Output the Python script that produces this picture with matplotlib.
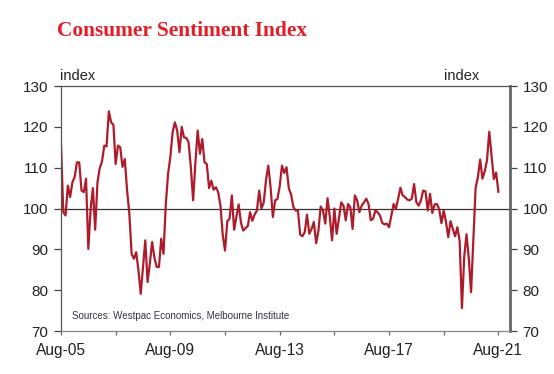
import matplotlib
matplotlib.use("Agg")
import matplotlib.pyplot as plt
import numpy as np

# Monthly Westpac-MI Consumer Sentiment Index, Aug-05 .. Aug-21
sentiment = [
    115.8, 99.1, 98.3, 105.6, 102.8, 106.4, 107.7, 111.3, 111.3, 104.4,
    104.0, 107.3, 90.1, 99.8, 105.0, 94.8, 106.4, 109.9, 111.5, 115.4,
    115.2, 123.8, 121.1, 120.5, 110.9, 115.4, 115.0, 110.2, 112.1, 104.5,
    98.7, 88.9, 87.7, 89.3, 84.8, 79.1, 85.7, 92.2, 82.0, 86.5,
    91.8, 88.0, 85.7, 85.7, 92.6, 88.9, 101.0, 108.5, 112.6, 118.7,
    121.1, 119.1, 113.8, 120.0, 117.4, 117.3, 116.2, 110.1, 102.0, 111.3,
    119.1, 113.4, 117.0, 111.3, 110.9, 105.0, 106.8, 104.6, 105.2, 104.0,
    100.7, 93.5, 89.7, 96.9, 97.5, 103.2, 94.8, 98.0, 101.0, 96.5,
    94.6, 95.2, 95.7, 99.1, 97.0, 98.5, 99.5, 104.4, 100.0, 101.5,
    107.0, 110.5, 105.2, 97.9, 102.0, 102.3, 105.4, 110.5, 108.7, 110.1,
    105.0, 103.4, 100.4, 99.5, 99.5, 93.6, 93.2, 94.2, 98.5, 93.8,
    95.0, 96.7, 91.5, 94.5, 100.5, 99.5, 96.3, 102.5, 97.9, 92.2,
    100.0, 93.8, 97.5, 101.5, 100.7, 97.1, 101.1, 100.3, 95.0, 103.2,
    102.0, 99.1, 100.7, 101.5, 102.4, 101.1, 97.1, 97.5, 99.5, 99.1,
    98.3, 96.5, 96.1, 96.3, 95.4, 98.3, 101.1, 99.9, 102.4, 105.1,
    103.2, 102.8, 102.2, 102.0, 102.4, 106.0, 101.5, 100.7, 102.0, 104.4,
    104.2, 99.5, 103.6, 98.9, 101.0, 101.1, 99.9, 96.4, 99.5, 96.7,
    93.0, 96.9, 95.0, 93.2, 95.4, 92.0, 75.6, 88.1, 93.7, 87.9,
    79.5, 92.5, 105.0, 107.7, 112.0, 107.3, 109.1, 111.8, 118.8, 113.1,
    107.2, 108.8, 104.1,
]
tick_labels = ["Aug-05", "", "Aug-09", "", "Aug-13", "", "Aug-17", "", "Aug-21"]
y_ticks = [70, 80, 90, 100, 110, 120, 130]

months = np.arange(len(sentiment))

plt.rcParams['font.family'] = ['Liberation Sans', 'DejaVu Sans']

fig = plt.figure(figsize=(5.54, 3.74), dpi=100)
ax = fig.add_axes([61/554, 1-331/374, (510-61)/554, (331-86)/374])

ax.plot(months, sentiment, color='#AE1C2B', lw=1.6, solid_joinstyle='round')
ax.axhline(100, color='#333333', lw=0.9, zorder=1)

ax.set_ylim(70, 130)
ax.set_xlim(0, 197.1)
ax.set_yticks(y_ticks)
ax.set_xticks(np.arange(0, 24*len(tick_labels), 24))
ax.set_xticklabels(tick_labels)

ax.tick_params(axis='y', which='both', left=True, right=True, labelleft=True,
               labelright=True, direction='out', length=5, width=0.9,
               color='#444444', labelsize=11, labelcolor='#222222', pad=4)
ax.tick_params(axis='x', direction='out', length=3, width=0.9, color='#666666',
               labelsize=11.2, labelcolor='#222222', pad=6)

for side in ['left', 'top', 'bottom']:
    ax.spines[side].set_color('#555555')
    ax.spines[side].set_linewidth(0.9)
ax.spines['right'].set_color('#666666')
ax.spines['right'].set_linewidth(2.0)
ax.spines['bottom'].set_color('#888888')

fig.text(57/554, 1-36/374, "Consumer Sentiment Index", family='Liberation Serif',
         weight='bold', color='#E41E26', fontsize=15.4, ha='left', va='baseline')
fig.text(60/554, 1-80/374, "index", fontsize=10.5, color='#222222', ha='left', va='baseline')
fig.text(479/554, 1-80/374, "index", fontsize=10.5, color='#222222', ha='right', va='baseline')
fig.text(72/554, 1-316/374, "Sources: Westpac Economics, Melbourne Institute",
         fontsize=7, color='#333344', ha='left', va='center')

fig.savefig("out.png", dpi=100)
